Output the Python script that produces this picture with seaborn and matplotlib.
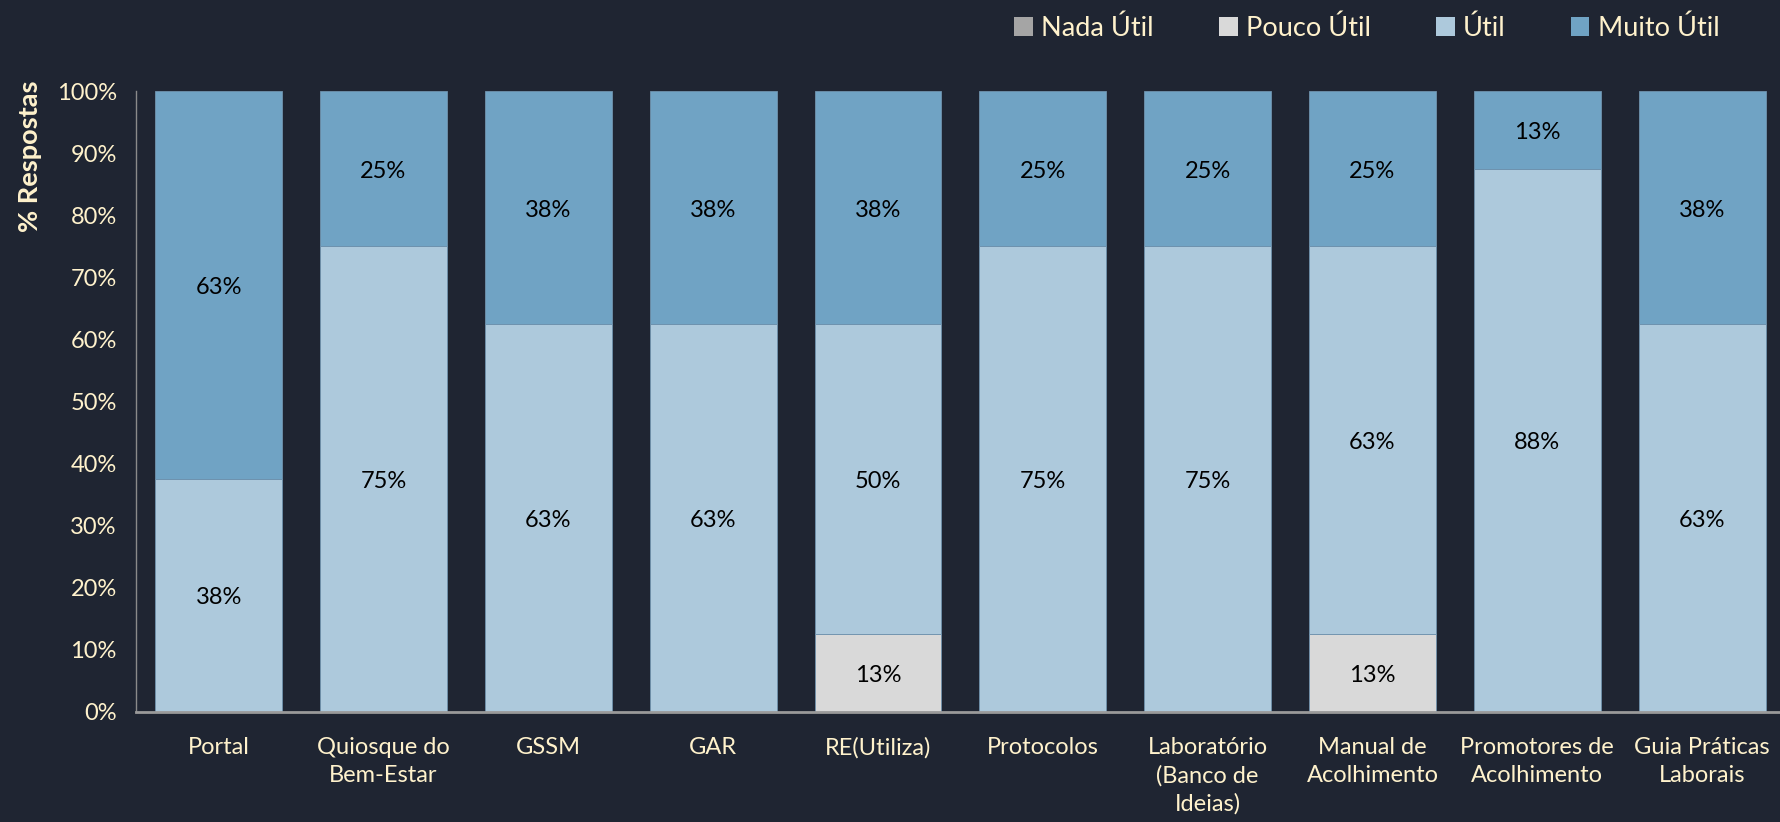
import pandas as pd
import numpy as np
import seaborn as sns
import matplotlib.pyplot as plt
from matplotlib.patches import Patch
from matplotlib.ticker import PercentFormatter

# Dados (% de respostas por instrumento)
categorias = ['Portal', 'Quiosque do\nBem-Estar', 'GSSM', 'GAR', 'RE(Utiliza)',
              'Protocolos', 'Laboratório\n(Banco de\nIdeias)', 'Manual de\nAcolhimento',
              'Promotores de\nAcolhimento', 'Guia Práticas\nLaborais']
nada_util = [0, 0, 0, 0, 0, 0, 0, 0, 0, 0]
pouco_util = [0, 0, 0, 0, 12.5, 0, 0, 12.5, 0, 0]
util = [37.5, 75, 62.5, 62.5, 50, 75, 75, 62.5, 87.5, 62.5]
muito_util = [62.5, 25, 37.5, 37.5, 37.5, 25, 25, 25, 12.5, 37.5]

series = ['Nada Útil', 'Pouco Útil', 'Útil', 'Muito Útil']
cores = ['#a5a5a5', '#d9d9d9', '#adc9dc', '#70a3c4']

df = pd.DataFrame({'Categoria': categorias, 'Nada Útil': nada_util,
                   'Pouco Útil': pouco_util, 'Útil': util, 'Muito Útil': muito_util})

bg = '#1f2532'
txt = '#fff2cc'

sns.set_theme(style='white')
plt.rcParams['font.family'] = ['Lato', 'DejaVu Sans']

fig = plt.figure(figsize=(17.81, 8.22), dpi=100, facecolor=bg)
ax = fig.add_axes([0.0765, 0.134, 0.9255, 0.755])
ax.set_facecolor(bg)

base = np.zeros(len(categorias))
for nome, cor in zip(series, cores):
    vals = df[nome].values
    sns.barplot(x='Categoria', y=nome, data=df, color=cor, saturation=1, width=0.77,
                bottom=base, edgecolor='#6f92ad', linewidth=0.6, ax=ax)
    for i, v in enumerate(vals):
        if v > 0:
            ax.text(i, base[i] + v / 2 - 0.4, f'{int(v + 0.5)}%', ha='center', va='center',
                    fontsize=17, color='black')
    base = base + vals

ax.set_xlim(-0.5, len(categorias) - 0.5)
ax.set_ylim(0, 100)
ax.set_yticks(np.arange(0, 101, 10))
ax.yaxis.set_major_formatter(PercentFormatter(decimals=0))
ax.tick_params(axis='both', length=0, colors=txt, labelsize=17)
ax.tick_params(axis='y', pad=14)
ax.tick_params(axis='x', pad=18)
for lab in ax.get_xticklabels():
    lab.set_linespacing(1.4)
    lab.set_va('top')

ax.set_xlabel('')
ax.set_ylabel('% Respostas', fontsize=19.5, fontweight='bold', color=txt)
ax.yaxis.set_label_coords(-0.057, 0.895)

for s in ['top', 'right']:
    ax.spines[s].set_visible(False)
ax.spines['left'].set_color('#8a8a8a')
ax.spines['left'].set_linewidth(1)
ax.spines['bottom'].set_color('#9a9a9a')
ax.spines['bottom'].set_linewidth(2)

handles = [Patch(facecolor=c, edgecolor='none') for c in cores]
leg = fig.legend(handles, series, loc='center right', bbox_to_anchor=(0.973, 0.966),
                 ncol=4, frameon=False, fontsize=19.5, handlelength=0.7, handleheight=0.7,
                 handletextpad=0.3, columnspacing=2.4, borderpad=0)
for t in leg.get_texts():
    t.set_color(txt)

fig.savefig('out.png', dpi=100, facecolor=bg)
